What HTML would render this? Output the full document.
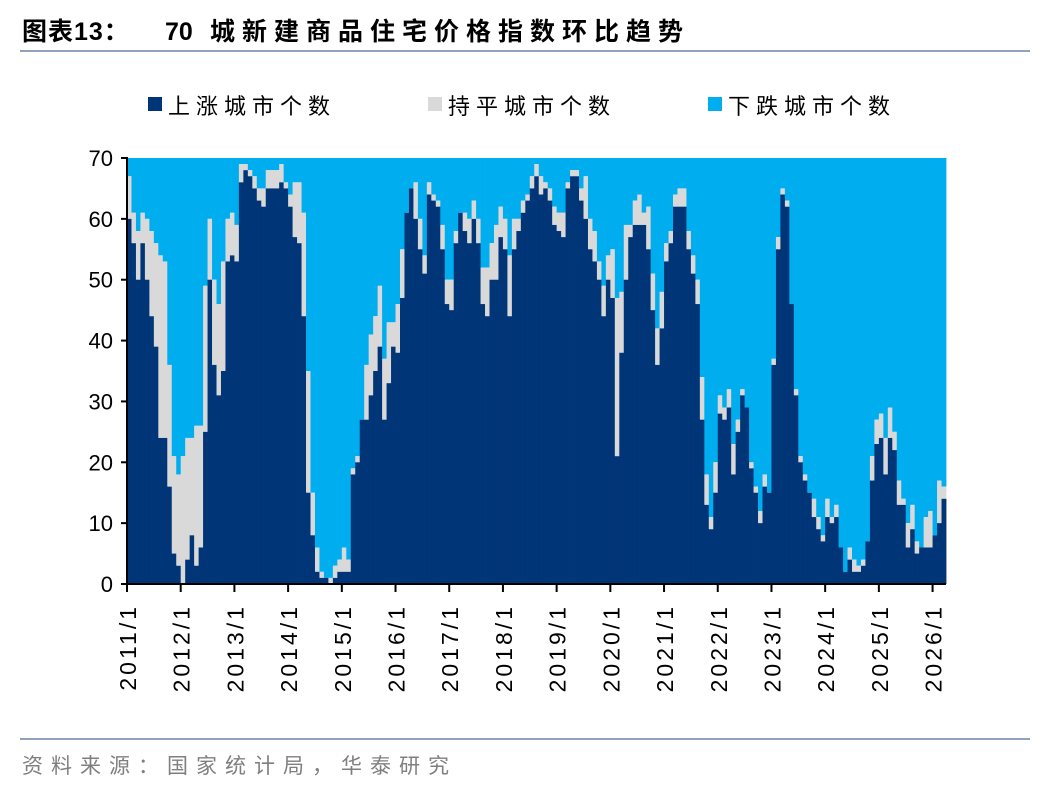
<!DOCTYPE html>
<html><head><meta charset="utf-8">
<style>
body{margin:0;background:#fff;width:1048px;height:792px;overflow:hidden;font-family:"Liberation Sans","Noto Sans CJK SC",sans-serif;}
</style></head><body>
<svg id="chart" width="1048" height="792" xmlns="http://www.w3.org/2000/svg">
<text x="22" y="40" font-size="25" font-weight="bold" fill="#000" font-family="Liberation Sans, Noto Sans CJK SC, sans-serif"><tspan letter-spacing="1">图表13：</tspan><tspan x="165">70</tspan><tspan x="210" letter-spacing="7">城新建商品住宅价格指数环比趋势</tspan></text>
<line x1="20" y1="51" x2="1030" y2="51" stroke="#8ea3bb" stroke-width="2"/>
<g font-size="22" letter-spacing="6" font-family="Liberation Sans, Noto Sans CJK SC, sans-serif">
 <g><rect x="148" y="97" width="14" height="14" fill="#003577"/><text x="168" y="114">上涨城市个数</text></g>
 <g><rect x="428" y="97" width="14" height="14" fill="#d9d9d9"/><text x="448" y="114">持平城市个数</text></g>
 <g><rect x="708" y="97" width="14" height="14" fill="#00aeef"/><text x="728" y="114">下跌城市个数</text></g>
</g>
<g id="plot"></g>
<line x1="20" y1="739" x2="1030" y2="739" stroke="#8ea3bb" stroke-width="2"/>
<text x="22" y="773" font-size="21" letter-spacing="8" fill="#7f7f7f" font-family="Liberation Sans, Noto Sans CJK SC, sans-serif">资料来源：国家统计局，华泰研究</text>
</svg>
<script>
const upValues=[60,56,50,56,50,44,39,24,24,16,5,3,0,4,8,3,6,25,50,36,31,35,53,54,53,66,68,67,65,63,62,65,65,65,66,65,62,57,56,44,15,8,2,1,1,0,1,2,2,2,18,20,27,27,31,35,39,27,33,39,38,47,61,65,60,55,51,64,63,62,55,46,45,56,61,58,56,60,56,46,44,50,50,57,55,44,55,58,61,63,65,67,64,65,63,59,58,57,65,67,67,63,60,55,53,50,44,50,47,21,38,50,57,59,59,59,55,45,36,42,53,56,62,62,62,55,51,46,27,13,9,15,28,27,29,18,25,31,29,19,15,10,16,15,36,55,64,62,46,31,20,17,15,11,9,7,11,10,11,6,2,4,2,2,3,7,17,23,24,18,24,22,13,13,6,9,5,6,6,6,8,10,14];
const flatValues=[7,5,8,5,10,14,17,30,29,20,16,15,21,20,16,23,20,24,10,14,15,18,7,7,6,3,1,1,2,2,3,3,3,3,3,1,2,9,10,17,20,7,4,1,0,1,2,2,4,2,1,1,0,9,10,9,10,10,10,4,8,8,0,0,6,5,3,2,1,1,4,4,5,2,0,3,4,3,4,6,8,6,9,5,5,10,5,2,2,1,2,2,3,1,2,3,3,4,1,1,1,2,7,5,5,3,5,4,8,26,10,9,2,4,5,2,7,6,6,6,3,2,2,3,3,3,3,4,7,5,2,5,3,2,3,5,2,1,0,1,1,2,2,0,1,2,1,1,0,1,1,1,0,3,2,1,3,1,2,0,0,2,2,1,1,0,4,4,4,6,5,3,4,1,4,4,2,0,5,6,0,7,2];
const totalCities=70;
const yTicks=[0,10,20,30,40,50,60,70];
const xTickLabels=["2011/1","2012/1","2013/1","2014/1","2015/1","2016/1","2017/1","2018/1","2019/1","2020/1","2021/1","2022/1","2023/1","2024/1","2025/1","2026/1"];

const X0=127, X1=946, Y0=584, Y1=158;
const n=upValues.length;
const bw=(X1-X0)/n;
const xPos=i=>X0+i*bw;
const yPos=v=>Y0-(v/totalCities)*(Y0-Y1);
const NS="http://www.w3.org/2000/svg";
const plot=document.getElementById('plot');
function mk(tag,attrs){const e=document.createElementNS(NS,tag);for(const k in attrs)e.setAttribute(k,attrs[k]);return e;}

for(let i=0;i<n;i++){
  const up=upValues[i], fl=flatValues[i];
  const x=xPos(i), w=bw+0.4;
  const rd=mk('rect',{x:x,y:yPos(totalCities),width:w,height:yPos(up+fl)-yPos(totalCities),fill:'#00aeef'});
  
  
  plot.appendChild(rd);
  if(fl>0){
    const rf=mk('rect',{x:x,y:yPos(up+fl),width:w,height:yPos(up)-yPos(up+fl),fill:'#d9d9d9'});
    
    
    plot.appendChild(rf);
  }
  if(up>0){
    const ru=mk('rect',{x:x,y:yPos(up),width:w,height:Y0-yPos(up),fill:'#003577'});
    
    
    plot.appendChild(ru);
  }
}
const ya=mk('line',{x1:X0,y1:Y1-1,x2:X0,y2:Y0,stroke:'#000','stroke-width':2});


plot.appendChild(ya);
const xa=mk('line',{x1:X0-1,y1:Y0,x2:X1,y2:Y0,stroke:'#000','stroke-width':2});


plot.appendChild(xa);
yTicks.forEach(v=>{
  const y=yPos(v);
  const t=mk('line',{x1:X0-6,y1:y,x2:X0,y2:y,stroke:'#000','stroke-width':2});
  
  
  plot.appendChild(t);
  const l=mk('text',{x:X0-14,y:y+8,'text-anchor':'end','font-size':22,fill:'#000'});
  
  
  l.textContent=v;plot.appendChild(l);
});
xTickLabels.forEach((s,k)=>{
  const x=xPos(k*12);
  const t=mk('line',{x1:x,y1:Y0,x2:x,y2:Y0+8,stroke:'#000','stroke-width':2});
  
  
  plot.appendChild(t);
  const l=mk('text',{x:0,y:0,'text-anchor':'end','font-size':23,'letter-spacing':3,fill:'#000',transform:`translate(${x+9},${Y0+20}) rotate(-90)`});
  
  
  l.textContent=s;plot.appendChild(l);
});
</script>
</body></html>
